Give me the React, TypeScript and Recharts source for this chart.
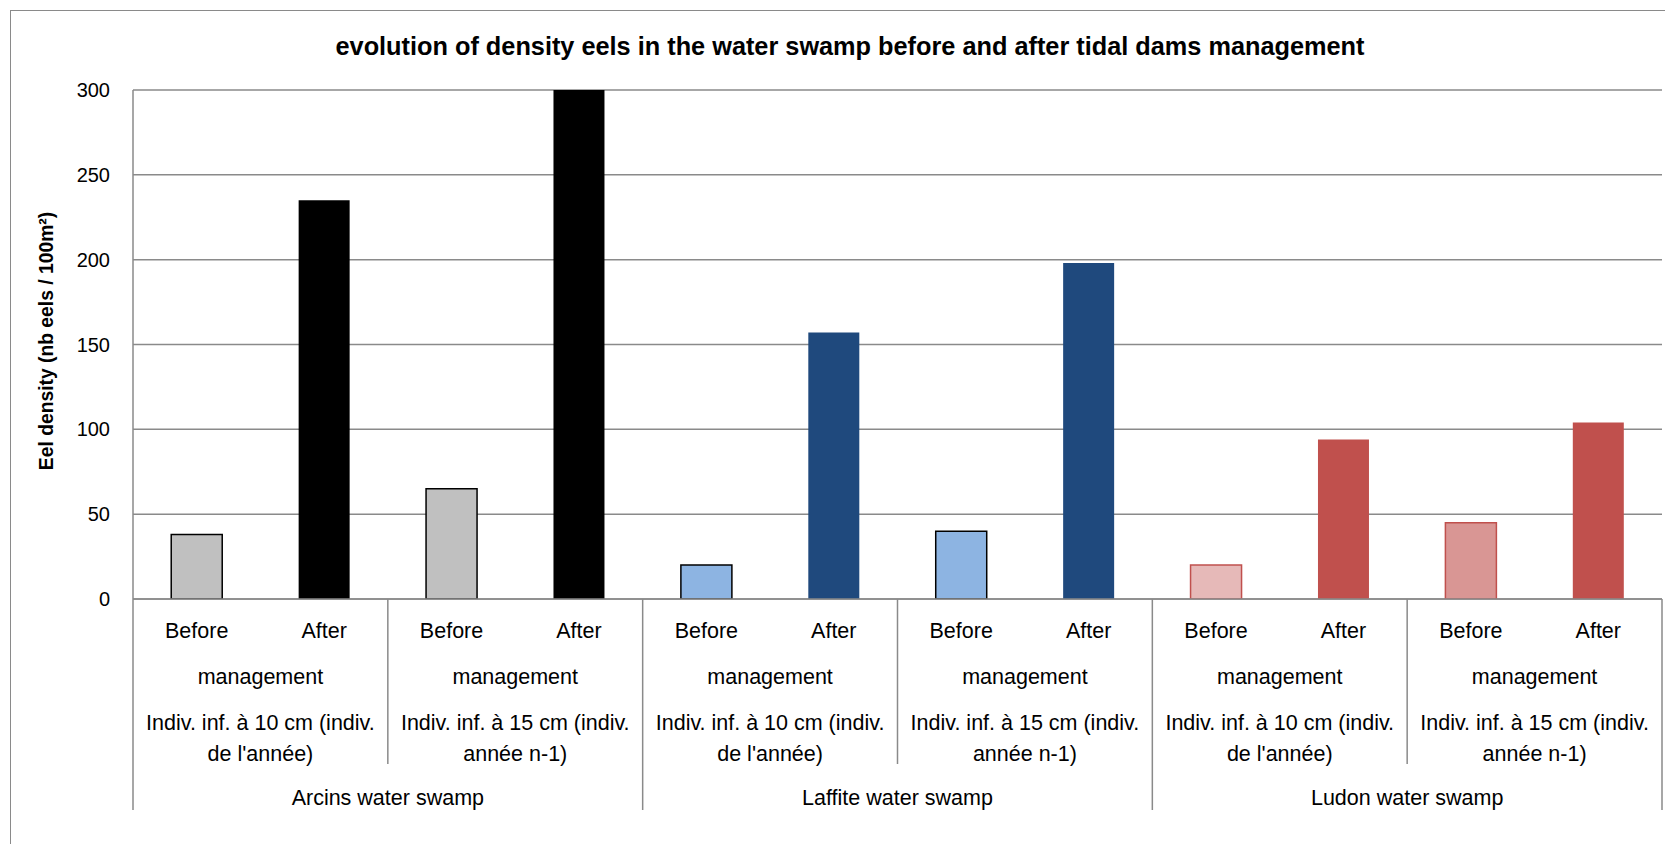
import { BarChart, Bar, Cell, XAxis, YAxis, CartesianGrid } from 'recharts'

const swamps = ['Arcins water swamp', 'Laffite water swamp', 'Ludon water swamp']
const sizeClasses = [
  ['Indiv. inf. à 10 cm (indiv.', "de l'année)"],
  ['Indiv. inf. à 15 cm (indiv.', 'année n-1)'],
]
const stages = ['Before', 'After']
const stageLine = 'management'

// per swamp: [10cm before, 10cm after, 15cm before, 15cm after]
const arcins = [38, 235, 65, 300]
const laffite = [20, 157, 40, 198]
const ludon = [20, 94, 45, 104]
const densities = [arcins, laffite, ludon]

const yTicks = [0, 50, 100, 150, 200, 250, 300]

const title = 'evolution of density eels in the water swamp before and after tidal dams management'
const yLabel = 'Eel density (nb eels / 100m²)'

const fills = [
  ['#C0C0C0', '#000000', '#C0C0C0', '#000000'],
  ['#8DB4E2', '#1F497D', '#8DB4E2', '#1F497D'],
  ['#E6B9B8', '#C0504D', '#D99694', '#C0504D'],
]
const strokes = [
  ['#000000', 'none', '#000000', 'none'],
  ['#000000', 'none', '#000000', 'none'],
  ['#C0504D', 'none', '#C0504D', 'none'],
]

const rows = swamps.flatMap((swamp, si) =>
  sizeClasses.flatMap((size, ci) =>
    stages.map((stage, ti) => ({
      key: `${si}-${ci}-${ti}`,
      swamp,
      size,
      stage,
      value: densities[si][ci * 2 + ti],
      fill: fills[si][ci * 2 + ti],
      stroke: strokes[si][ci * 2 + ti],
    })),
  ),
)

const W = 1665
const H = 844
const M = { top: 90, right: 3, left: 0, bottom: 15 }
const Y_AXIS_W = 133
const X_AXIS_H = H - 599 - M.bottom
const PLOT_W = W - M.left - M.right - Y_AXIS_W
const BAND = PLOT_W / rows.length

const GRID = '#8a8a8a'
const FONT = '"Liberation Sans", Arial, sans-serif'

function CategoryTick(props: any) {
  const { x, y, index } = props
  const row = rows[index]
  if (!row) return null
  const txt = { fontFamily: FONT, fontSize: 21.5, fill: '#000', textAnchor: 'middle' as const }
  const left = x - BAND / 2
  return (
    <g>
      {index % 2 === 0 && (
        <line x1={left} x2={left} y1={y} y2={y + (index % 4 === 0 ? 211 : 165)} stroke={GRID} strokeWidth={1.5} />
      )}
      {index === rows.length - 1 && (
        <line x1={x + BAND / 2} x2={x + BAND / 2} y1={y} y2={y + 211} stroke={GRID} strokeWidth={1.5} />
      )}
      <text {...txt} x={x} y={y + 39}>{row.stage}</text>
      {index % 2 === 0 && (
        <>
          <text {...txt} x={x + BAND / 2} y={y + 85}>{stageLine}</text>
          <text {...txt} x={x + BAND / 2} y={y + 131}>{row.size[0]}</text>
          <text {...txt} x={x + BAND / 2} y={y + 162}>{row.size[1]}</text>
        </>
      )}
      {index % 4 === 0 && (
        <text {...txt} x={x + BAND * 1.5} y={y + 206}>{row.swamp}</text>
      )}
    </g>
  )
}

export default function App() {
  return (
    <div style={{ position: 'fixed', left: 0, top: 0, width: W, height: H, overflow: 'hidden', background: '#fff' }}>
      <div
        style={{
          position: 'absolute',
          left: 10,
          top: 10,
          width: 1700,
          height: 900,
          border: `1.5px solid ${GRID}`,
        }}
      />
      <div
        style={{
          position: 'absolute',
          left: 850 - 700,
          width: 1400,
          top: 30,
          textAlign: 'center',
          fontFamily: FONT,
          fontWeight: 'bold',
          fontSize: 25.3,
          lineHeight: '32px',
          whiteSpace: 'nowrap',
        }}
      >
        {title}
      </div>
      <div
        style={{
          position: 'absolute',
          left: 47 - 200,
          top: 341 - 12,
          width: 400,
          textAlign: 'center',
          transform: 'rotate(-90deg)',
          fontFamily: FONT,
          fontWeight: 'bold',
          fontSize: 19.3,
          lineHeight: '24px',
          whiteSpace: 'nowrap',
        }}
      >
        {yLabel}
      </div>
      <div style={{ position: 'absolute', left: 0, top: 0 }}>
        <BarChart width={W} height={H} data={rows} margin={M} barCategoryGap="30%">
          <CartesianGrid vertical={false} stroke={GRID} strokeWidth={1.5} />
          <XAxis
            dataKey="key"
            interval={0}
            height={X_AXIS_H}
            axisLine={{ stroke: GRID, strokeWidth: 1.5 }}
            tickLine={false}
            tickSize={0}
            tickMargin={0}
            tick={<CategoryTick />}
          />
          <YAxis
            width={Y_AXIS_W}
            domain={[0, 300]}
            ticks={yTicks}
            allowDataOverflow
            axisLine={{ stroke: GRID, strokeWidth: 1.5 }}
            tickLine={false}
            tickSize={0}
            tickMargin={23}
            tick={{ fontFamily: FONT, fontSize: 20, fill: '#000' }}
          />
          <Bar dataKey="value" isAnimationActive={false} strokeWidth={1.5}>
            {rows.map((r) => (
              <Cell key={r.key} fill={r.fill} stroke={r.stroke} />
            ))}
          </Bar>
        </BarChart>
      </div>
    </div>
  )
}
